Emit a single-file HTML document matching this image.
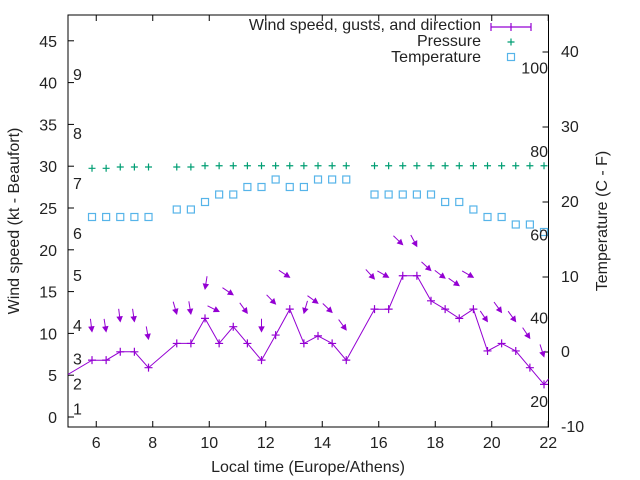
<!DOCTYPE html>
<html><head><meta charset="utf-8"><style>
body{margin:0;background:#fff}
svg{display:block;font-family:"Liberation Sans",sans-serif}
</style></head><body>
<svg id="chart" width="640" height="480" viewBox="0 0 640 480">
<defs><clipPath id="plotclip"><rect x="68" y="15" width="480.5" height="412"/></clipPath></defs>
<g id="axes"></g>
<g id="series" clip-path="url(#plotclip)"></g>
<g id="labels"></g>
</svg>
<script>
const times=[5.85,6.35,6.85,7.35,7.85,8.85,9.35,9.85,10.35,10.85,11.35,11.85,12.35,12.85,13.35,13.85,14.35,14.85,15.85,16.35,16.85,17.35,17.85,18.35,18.85,19.35,19.85,20.35,20.85,21.35,21.85];
const windSpeed=[6.8,6.8,7.8,7.8,5.9,8.8,8.8,11.8,8.8,10.8,8.8,6.8,9.8,12.9,8.8,9.7,8.8,6.8,12.9,12.9,16.9,16.9,13.9,12.9,11.8,12.9,7.9,8.8,7.9,5.9,3.9];
const windGust=[10.2,10.2,11.4,11.4,9.3,12.3,12.3,15.3,12.6,14.6,12.4,10.2,13.5,16.7,12.4,13.6,12.5,10.4,16.5,16.7,20.6,20.4,17.5,16.6,15.7,16.7,11.4,12.5,11.4,9.4,7.2];
const windDir=[353,351,353,352,350,344,351,9,297,304,324,360,316,303,16,306,314,324,318,300,314,332,313,307,305,300,326,324,324,326,342];
const pressure=[29.75,29.75,29.9,29.9,29.9,29.9,29.9,30.05,30.05,30.05,30.05,30.05,30.05,30.05,30.05,30.05,30.05,30.05,30.05,30.05,30.05,30.05,30.05,30.05,30.05,30.05,30.05,30.05,30.05,30.05,30.05];
const temperature=[18,18,18,18,18,19,19,20,21,21,22,22,23,22,22,23,23,23,21,21,21,21,21,20,20,19,18,18,17,17,16];
const xTicks=[6,8,10,12,14,16,18,20,22];
const yTicks=[0,5,10,15,20,25,30,35,40,45];
const y2Ticks=[-10,0,10,20,30,40];
const beaufort=[1,2,3,4,5,6,7,8,9];
const beaufortKt=[1,4,7,11,17,22,28,34,41];
const fahrenheit=[20,40,60,80,100];
const edgeTimes=[4.85,22.35];
const edgeSpeed=[4.8,5.9];

const X=t=>68+(t-5)*28.25;
const Y=v=>417-v*8.36;
const Y2=c=>352-c*7.5;
const NS='http://www.w3.org/2000/svg';
function mk(tag,attrs,parent,text){const e=document.createElementNS(NS,tag);for(const k in attrs)e.setAttribute(k,attrs[k]);if(text!==undefined)e.textContent=text;parent.appendChild(e);return e;}
const axes=document.getElementById('axes'),ser=document.getElementById('series'),lab=document.getElementById('labels');
const purple='#9400d3',green='#009e73',blue='#56b4e9';
const FS=16;

let fr=mk('rect',{x:68,y:15,width:480.5,height:412,fill:'none',stroke:'#000','stroke-width':1},axes);


xTicks.forEach(t=>{
  const x=X(t);
  let l=mk('line',{x1:x,x2:x,y1:427,y2:421,stroke:'#000'},axes);
  
  
  mk('line',{x1:x,x2:x,y1:15,y2:21,stroke:'#000'},axes);
  let tx=mk('text',{x:x,y:448,'text-anchor':'middle','font-size':FS,fill:'#222'},lab,String(t));
  
  
});
yTicks.forEach(v=>{
  const y=Y(v);
  let l=mk('line',{x1:68,x2:74,y1:y,y2:y,stroke:'#000'},axes);
  
  
  let tx=mk('text',{x:57,y:y+6,'text-anchor':'end','font-size':FS,fill:'#222'},lab,String(v));
  
  
});
y2Ticks.forEach(v=>{
  const y=Y2(v);
  let l=mk('line',{x1:548.5,x2:542.5,y1:y,y2:y,stroke:'#000'},axes);
  
  
  let tx=mk('text',{x:561,y:y+5,'font-size':FS,fill:'#222'},lab,String(v));
  
  
});
beaufort.forEach((b,i)=>{
  let tx=mk('text',{x:73,y:Y(beaufortKt[i])+6,'font-size':FS,fill:'#222'},lab,String(b));
  
  
});
fahrenheit.forEach(f=>{
  const c=(f-32)*5/9;
  let tx=mk('text',{x:548,y:Y2(c)+5,'text-anchor':'end','font-size':FS,fill:'#222'},lab,String(f));
  
  
});

pressure.forEach((p,i)=>{
  const x=X(times[i]),y=Y(p);
  let g=mk('path',{d:`M${x-3.5},${y}h7M${x},${y-3.5}v7`,stroke:green,'stroke-width':1.2},ser);
  
  
});
temperature.forEach((c,i)=>{
  let r=mk('rect',{x:X(times[i])-3.5,y:Y2(c)-3.5,width:7,height:7,fill:'none',stroke:blue,'stroke-width':1.2},ser);
  
  
});
const pts=[[edgeTimes[0],edgeSpeed[0]]].concat(times.map((t,i)=>[t,windSpeed[i]])).concat([[edgeTimes[1],edgeSpeed[1]]]);
let d='';
pts.forEach((p,i)=>{d+=(i===0?'M':'L')+X(p[0]).toFixed(1)+','+Y(p[1]).toFixed(1);});
let wl=mk('path',{d:d,fill:'none',stroke:purple,'stroke-width':1},ser);


windSpeed.forEach((v,i)=>{
  const x=X(times[i]),y=Y(v);
  let g=mk('path',{d:`M${x-4},${y}h8M${x},${y-4}v8`,stroke:purple,'stroke-width':1.2},ser);
  
  
});
windGust.forEach((g,i)=>{
  const tx=X(times[i]),ty=Y(g);
  const a=windDir[i]*Math.PI/180;
  const ux=Math.sin(a),uy=-Math.cos(a);
  const L=13;
  const sx=tx+ux*L,sy=ty+uy*L;
  const h=5,w=2.6;
  const bx=tx+ux*h,by=ty+uy*h;
  const px=-uy,py=ux;
  const grp=mk('g',{},ser);
  
  
  mk('line',{x1:sx,y1:sy,x2:bx,y2:by,stroke:purple,'stroke-width':1},grp);
  mk('polygon',{points:`${tx},${ty} ${bx+px*w},${by+py*w} ${bx-px*w},${by-py*w}`,fill:purple,stroke:purple,'stroke-width':0.8},grp);
});

const leg=mk('g',{},lab);


let t1=mk('text',{x:481,y:30,'text-anchor':'end','font-size':FS,fill:'#222'},leg,'Wind speed, gusts, and direction');


mk('path',{d:'M491,27h40M491,23v8M531,23v8M511,23v8',stroke:purple,'stroke-width':1.2,fill:'none'},leg);
let t2=mk('text',{x:481,y:46,'text-anchor':'end','font-size':FS,fill:'#222'},leg,'Pressure');


mk('path',{d:'M507.5,42h7M511,38.5v7',stroke:green,'stroke-width':1.2},leg);
let t3=mk('text',{x:481,y:62,'text-anchor':'end','font-size':FS,fill:'#222'},leg,'Temperature');


mk('rect',{x:507.5,y:53.5,width:7,height:7,fill:'none',stroke:blue,'stroke-width':1.2},leg);

let xt=mk('text',{x:308,y:472,'text-anchor':'middle','font-size':FS,fill:'#222'},lab,'Local time (Europe/Athens)');


let yt=mk('text',{x:0,y:0,'text-anchor':'middle','font-size':FS,fill:'#222',transform:'translate(19,221) rotate(-90)'},lab,'Wind speed (kt - Beaufort)');


let y2t=mk('text',{x:0,y:0,'text-anchor':'middle','font-size':FS,fill:'#222',transform:'translate(607,221) rotate(-90)'},lab,'Temperature (C - F)');


</script>
</body></html>
